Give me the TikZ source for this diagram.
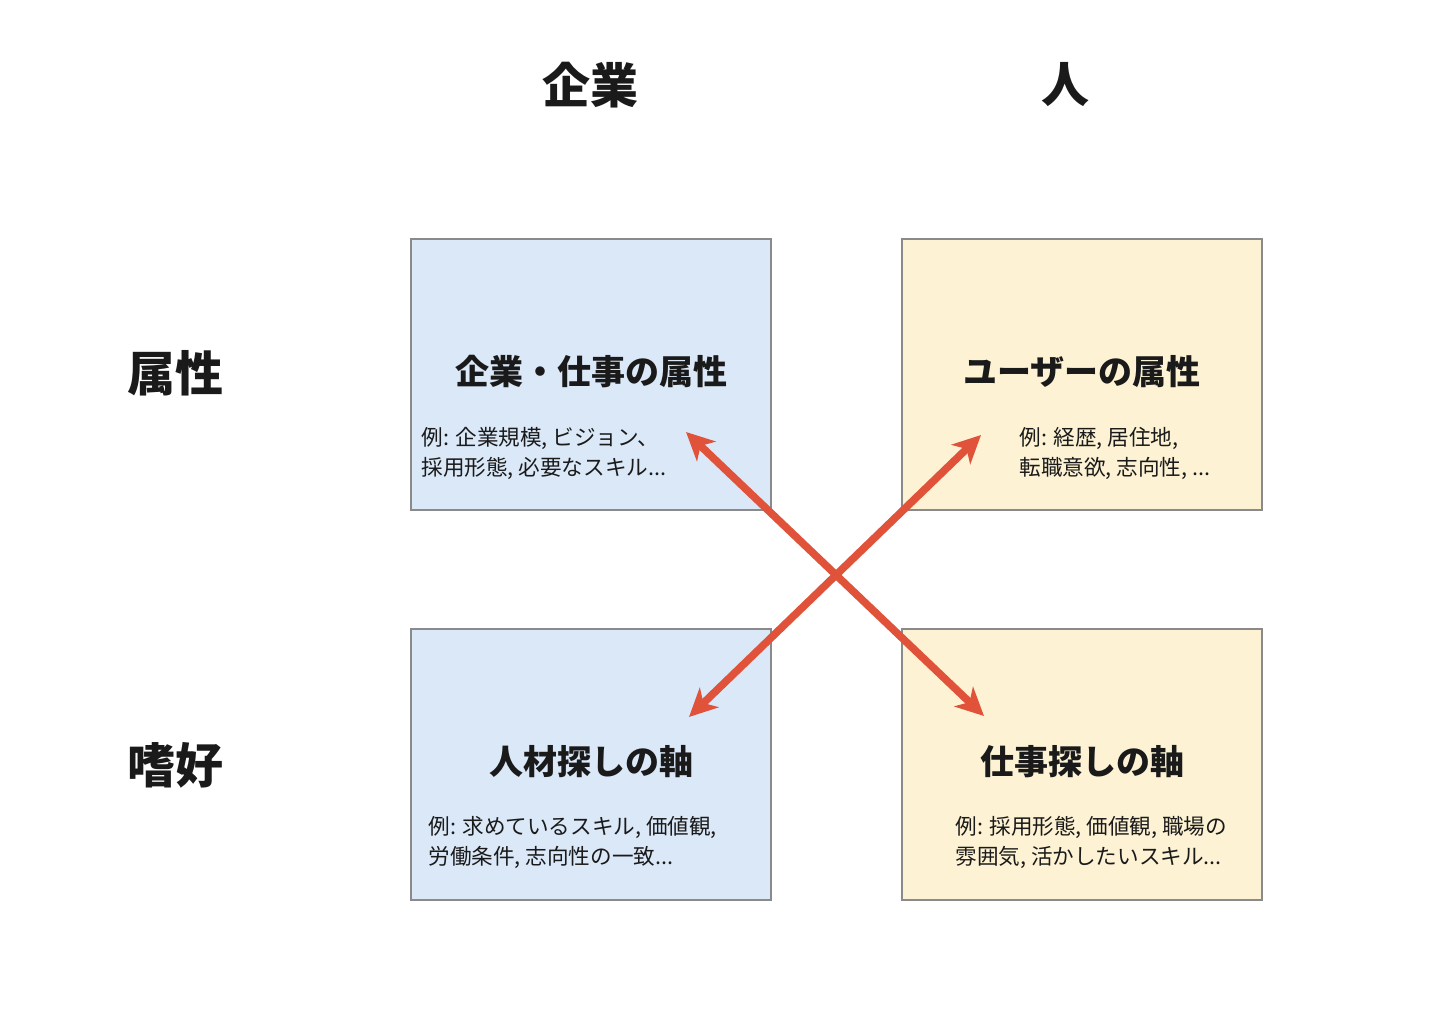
\documentclass[tikz,border=0pt]{standalone}
\usepackage{fontspec}
\setmainfont{Noto Sans CJK JP}
\newfontfamily\cjk{Noto Sans CJK JP}
\usetikzlibrary{arrows.meta}
\definecolor{boxblue}{HTML}{DAE8F8}
\definecolor{boxyellow}{HTML}{FDF3D4}
\definecolor{boxline}{HTML}{8A8A8A}
\definecolor{arrowred}{HTML}{E0533A}
\definecolor{txt}{HTML}{1A1A1A}
\tikzset{
  quad/.style={draw=boxline, line width=0.6pt, minimum width=180pt, minimum height=135.5pt, inner sep=0pt},
  qblue/.style={quad, fill=boxblue},
  qyellow/.style={quad, fill=boxyellow},
  header/.style={text=txt, font=\cjk\bfseries\fontsize{24}{28}\selectfont, inner sep=0pt},
  qtitle/.style={text=txt, font=\cjk\bfseries\fontsize{17}{20}\selectfont, inner sep=0pt},
  qbody/.style={text=txt, font=\cjk\fontsize{10.8}{15}\selectfont, align=left, anchor=west, inner sep=0pt},
  link/.style={draw=arrowred, line width=3.8pt, {Stealth[length=14pt,width=13.5pt,inset=4pt]}-{Stealth[length=14pt,width=13.5pt,inset=4pt]}}
}
\begin{document}
\begin{tikzpicture}[x=0.5pt,y=-0.5pt]
\useasboundingbox[fill=white] (0,0) rectangle (1440,1016);
% headers
\node[header] (hA) at (590,85) {企業};
\node[header] (hB) at (1065,85) {人};
\node[header] (hC) at (175,373) {属性};
\node[header] (hD) at (175,765) {嗜好};
% boxes
\node[qblue] (tl) at (591,374.5) {};
\node[qyellow] (tr) at (1082,374.5) {};
\node[qblue] (bl) at (591,764.5) {};
\node[qyellow] (br) at (1082,764.5) {};
% titles
\node[qtitle] (tlt) at (591,372) {企業・仕事の属性};
\node[qtitle] (trt) at (1082,372) {ユーザーの属性};
\node[qtitle] (blt) at (591,762) {人材探しの軸};
\node[qtitle] (brt) at (1082,762) {仕事探しの軸};
% bodies
\node[qbody] (tlb) at (421,453) {例: 企業規模, ビジョン、\\採用形態, 必要なスキル...};
\node[qbody] (trb) at (1019,453) {例: 経歴, 居住地,\\転職意欲, 志向性, ...};
\node[qbody] (blb) at (428,842) {例: 求めているスキル, 価値観,\\労働条件, 志向性の一致...};
\node[qbody] (brb) at (955,842) {例: 採用形態, 価値観, 職場の\\雰囲気, 活かしたいスキル...};
% arrows
\coordinate (a1) at (686,432);
\coordinate (a2) at (984,716);
\coordinate (b1) at (689,717);
\coordinate (b2) at (981,435);
\draw[link] (a1) -- (a2);
\draw[link] (b1) -- (b2);
\end{tikzpicture}
\end{document}
